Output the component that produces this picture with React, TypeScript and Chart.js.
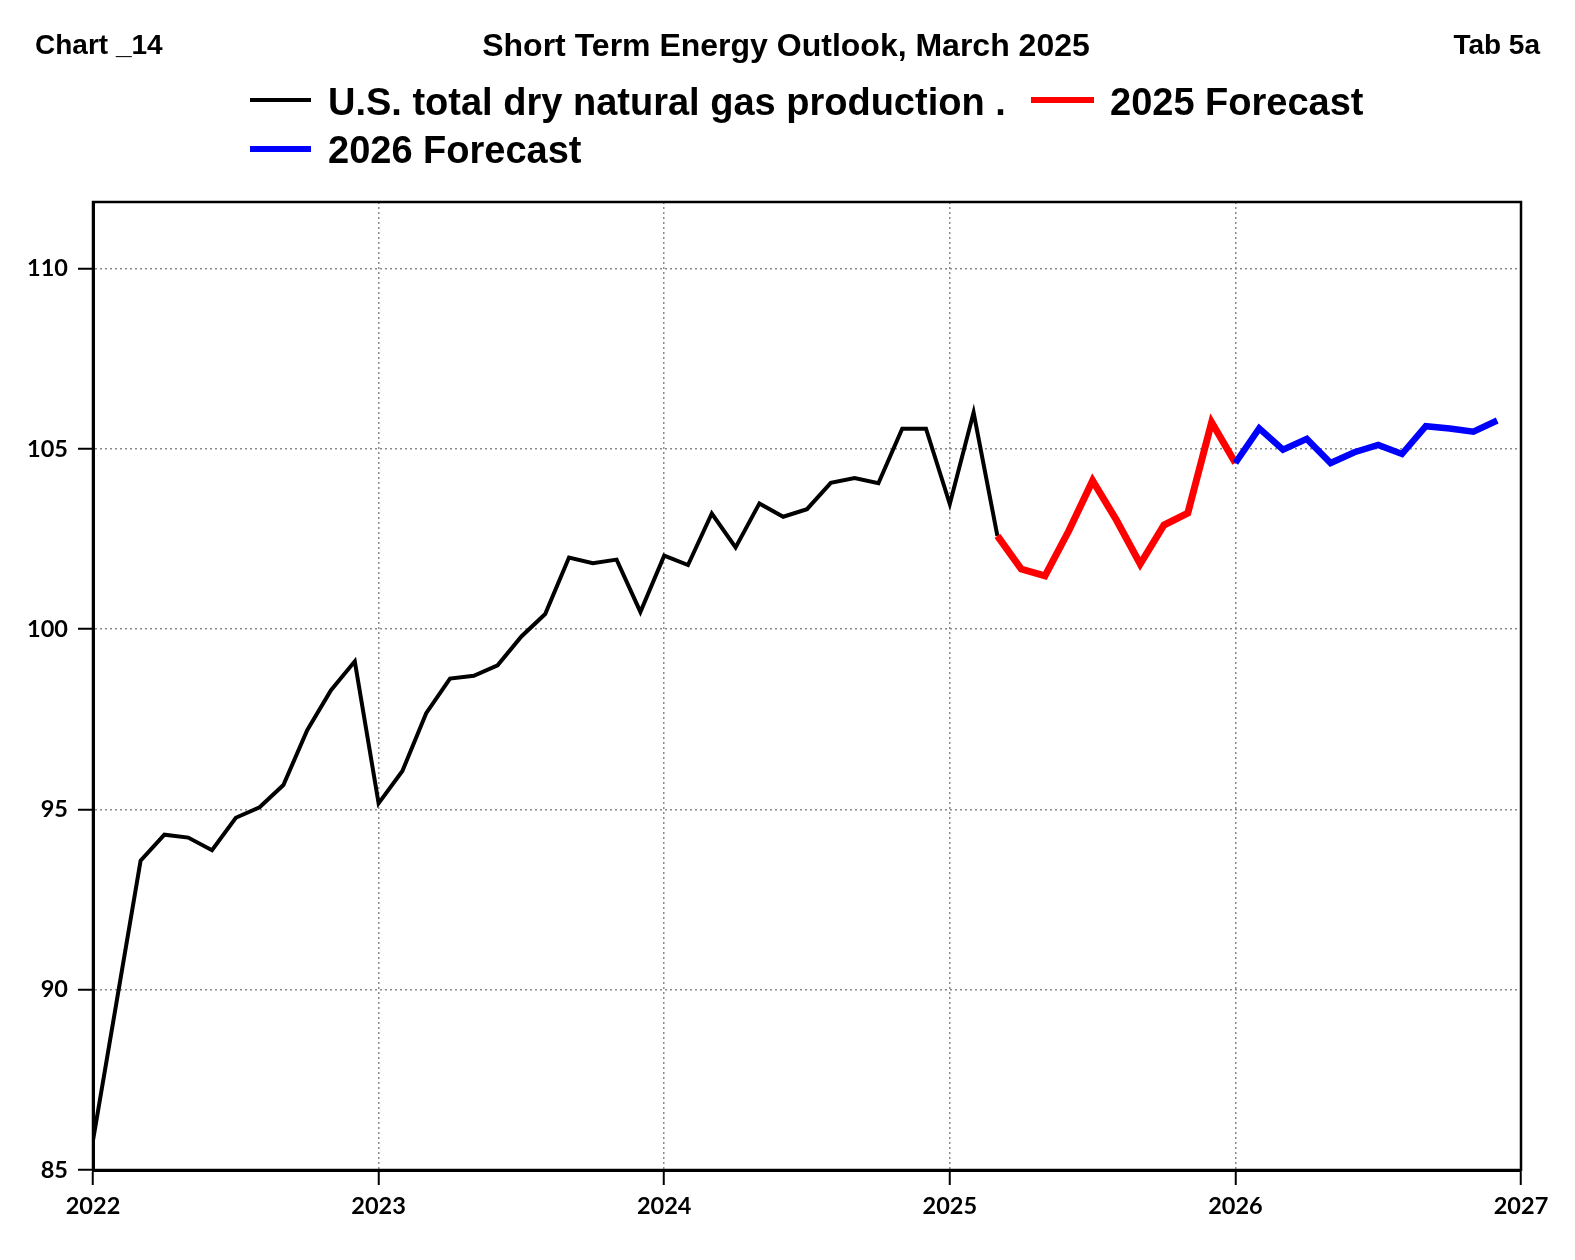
import React, { useEffect, useRef } from "react";
import { Chart, registerables } from "chart.js";

Chart.register(...registerables);

// ---- data ----
const START_YEAR = 2022;
const yearTicks = [2022, 2023, 2024, 2025, 2026, 2027];
const yTicks = [85, 90, 95, 100, 105, 110];

// month index 0 = Jan 2022
const historyStart = 0;
const historyValues = [
  85.82, 89.7, 93.58, 94.3, 94.22, 93.87, 94.77, 95.06, 95.68, 97.2, 98.31, 99.11,
  95.17, 96.07, 97.67, 98.63, 98.71, 99.0, 99.8, 100.42, 101.99, 101.83, 101.93, 100.48,
  102.04, 101.78, 103.21, 102.27, 103.49, 103.12, 103.33, 104.06, 104.19, 104.05, 105.56, 105.56,
  103.47, 106.01, 102.59,
];
const forecast2025Start = 38; // Mar 2025
const forecast2025Values = [102.59, 101.67, 101.48, 102.73, 104.12, 103.03, 101.81, 102.89, 103.22, 105.74, 104.61];
const forecast2026Start = 48; // Jan 2026
const forecast2026Values = [104.61, 105.57, 104.98, 105.28, 104.61, 104.91, 105.11, 104.86, 105.63, 105.57, 105.48, 105.79];

const seriesNames = ["U.S. total dry natural gas production .", "2025 Forecast", "2026 Forecast"];

const toPoints = (start: number, vals: number[]) =>
  vals.map((v, i) => ({ x: START_YEAR + (start + i) / 12, y: v }));

const W = 1575;
const H = 1260;

const framePlugin = {
  id: "frame",
  afterDraw(chart: any) {
    const { ctx, chartArea } = chart;
    ctx.save();
    ctx.strokeStyle = "#000";
    ctx.lineWidth = 2.5;
    ctx.setLineDash([]);
    ctx.strokeRect(chartArea.left, chartArea.top, chartArea.right - chartArea.left, chartArea.bottom - chartArea.top);
    ctx.restore();
  },
};

export default function App() {
  const ref = useRef<HTMLCanvasElement | null>(null);

  useEffect(() => {
    if (!ref.current) return;
    const tickFont = { family: "Lato, 'Open Sans', sans-serif", weight: "bold" as const, size: 23.5 };
    const chart = new Chart(ref.current, {
      type: "line",
      data: {
        datasets: [
          {
            label: seriesNames[0],
            data: toPoints(historyStart, historyValues),
            borderColor: "#000000",
            borderWidth: 4,
            pointRadius: 0,
            tension: 0,
            borderJoinStyle: "miter",
            order: 2,
          },
          {
            label: seriesNames[1],
            data: toPoints(forecast2025Start, forecast2025Values),
            borderColor: "#ff0000",
            borderWidth: 7,
            pointRadius: 0,
            tension: 0,
            borderJoinStyle: "miter",
            order: 1,
          },
          {
            label: seriesNames[2],
            data: toPoints(forecast2026Start, forecast2026Values),
            borderColor: "#0000ff",
            borderWidth: 6.5,
            pointRadius: 0,
            tension: 0,
            borderJoinStyle: "miter",
            order: 0,
          },
        ],
      },
      options: {
        animation: false,
        responsive: false,
        devicePixelRatio: 1,
        layout: { padding: { top: 202, right: 54, left: 0, bottom: 0 } },
        plugins: { legend: { display: false }, tooltip: { enabled: false }, title: { display: false } },
        scales: {
          x: {
            type: "linear",
            min: yearTicks[0],
            max: yearTicks[yearTicks.length - 1],
            afterFit: (s: any) => {
              s.height = 90;
            },
            afterBuildTicks: (s: any) => {
              s.ticks = yearTicks.map((v) => ({ value: v }));
            },
            ticks: {
              callback: (v: any) => String(v),
              font: tickFont,
              color: "#000",
              padding: 7,
              maxRotation: 0,
              autoSkip: false,
            },
            grid: { color: "#8a8a8a", lineWidth: 1.5, tickLength: 15, tickColor: "#000", tickWidth: 2 },
            border: { display: true, color: "#000", width: 3, dash: [2, 3] },
          },
          y: {
            type: "linear",
            min: 85,
            max: 111.85,
            afterFit: (s: any) => {
              s.width = 93;
            },
            afterBuildTicks: (s: any) => {
              s.ticks = yTicks.map((v) => ({ value: v }));
            },
            ticks: {
              callback: (v: any) => String(v),
              font: tickFont,
              color: "#000",
              padding: 10,
              autoSkip: false,
            },
            grid: { color: "#8a8a8a", lineWidth: 1.5, tickLength: 15, tickColor: "#000", tickWidth: 2 },
            border: { display: true, color: "#000", width: 3, dash: [2, 3] },
          },
        },
      },
      plugins: [framePlugin],
    });
    return () => chart.destroy();
  }, []);

  const font = "'Liberation Sans', Arial, sans-serif";
  const text = (t: string, left: number, centerY: number, size: number, extra: any = {}) => (
    <div
      style={{
        position: "absolute",
        left,
        top: centerY - 0.49 * size,
        fontFamily: font,
        fontWeight: "bold",
        fontSize: size,
        lineHeight: 1,
        whiteSpace: "nowrap",
        color: "#000",
        ...extra,
      }}
    >
      {t}
    </div>
  );
  const sample = (left: number, y: number, width: number, thick: number, color: string) => (
    <div style={{ position: "absolute", left, top: y - thick / 2, width, height: thick, background: color }} />
  );

  return (
    <div style={{ position: "absolute", left: 0, top: 0, width: W, height: H, background: "#fff", overflow: "hidden" }}>
      <canvas ref={ref} width={W} height={H} style={{ position: "absolute", left: 0, top: 0, width: W, height: H }} />
      {text("Chart _14", 35, 45, 28)}
      <div
        style={{
          position: "absolute",
          left: 0,
          width: 1572,
          top: 45 - 0.49 * 32,
          textAlign: "center",
          fontFamily: font,
          fontWeight: "bold",
          fontSize: 32,
          lineHeight: 1,
          whiteSpace: "nowrap",
        }}
      >
        Short Term Energy Outlook, March 2025
      </div>
      <div
        style={{
          position: "absolute",
          right: 1575 - 1540,
          top: 45 - 0.49 * 28,
          fontFamily: font,
          fontWeight: "bold",
          fontSize: 28,
          lineHeight: 1,
          whiteSpace: "nowrap",
        }}
      >
        Tab 5a
      </div>
      {sample(250, 100, 61, 3.5, "#000")}
      {text(seriesNames[0], 328, 102, 38)}
      {sample(1031, 100, 63, 6.5, "#ff0000")}
      {text(seriesNames[1], 1110, 102, 38)}
      {sample(250, 149, 61, 6.5, "#0000ff")}
      {text(seriesNames[2], 328, 150, 38)}
    </div>
  );
}
